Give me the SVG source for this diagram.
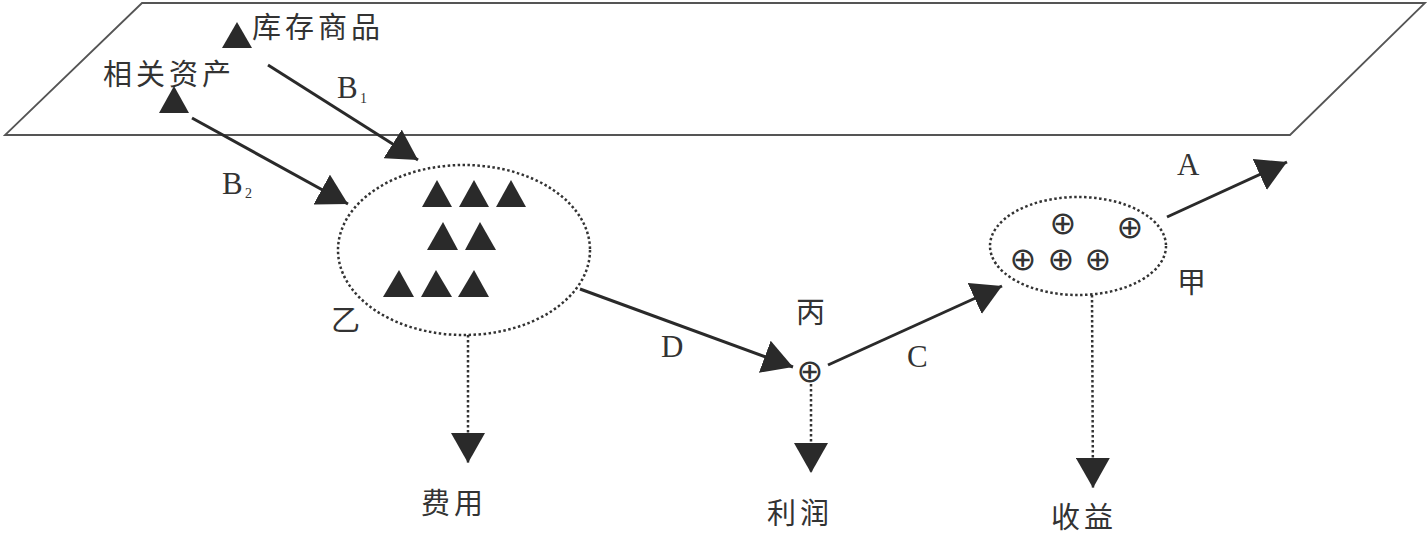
<svg xmlns="http://www.w3.org/2000/svg" width="1428" height="536" viewBox="0 0 1428 536">
<defs>
<style>
.cjk{font-family:"Noto Sans CJK SC","Noto Sans CJK JP",sans-serif;font-size:29px;fill:#333;letter-spacing:4px}
.lat{font-family:"Liberation Serif",serif;font-size:31px;fill:#333}
.sub{font-family:"Liberation Serif",serif;font-size:14px;fill:#333}
.op{font-family:"DejaVu Sans",sans-serif;font-size:32px;fill:#333;text-anchor:middle}
.tri{fill:#2a2a2a}
.solid{stroke:#2a2a2a;stroke-width:3;fill:none}
.dot{stroke:#333;stroke-width:2.5;fill:none;stroke-dasharray:2.5 2.5}
</style>
<marker id="ah" viewBox="0 0 30 34" refX="30" refY="17" markerWidth="30" markerHeight="34" markerUnits="userSpaceOnUse" orient="auto">
<path d="M0,0 L30,17 L0,34 Z" fill="#2a2a2a"/>
</marker>
</defs>
<rect width="1428" height="536" fill="#fff"/>
<g id="plane">
<polygon points="142,3 1425,3 1290,135 5,135" fill="none" stroke="#555" stroke-width="1.8"/>
</g>
<g id="node-kucun">
<polygon class="tri" points="222,48 237,22 252,48"/>
<text class="cjk" x="252" y="38">库存商品</text>
</g>
<g id="node-xiangguan">
<text class="cjk" x="103" y="85">相关资产</text>
<polygon class="tri" points="159,113 174,86 189,113"/>
</g>
<g id="node-yi">
<ellipse class="dot" cx="464" cy="250" rx="126" ry="85"/>
<polygon class="tri" points="422,207 437,180 452,207"/>
<polygon class="tri" points="459,207 474,180 489,207"/>
<polygon class="tri" points="496,207 511,180 526,207"/>
<polygon class="tri" points="427,250 443,222 458,250"/>
<polygon class="tri" points="465,250 480,222 496,250"/>
<polygon class="tri" points="383,297 399,270 414,297"/>
<polygon class="tri" points="421,297 436,270 452,297"/>
<polygon class="tri" points="458,297 474,270 489,297"/>
<text class="cjk" x="331" y="331">乙</text>
</g>
<g id="node-bing">
<text class="op" x="810" y="382">⊕</text>
<text class="cjk" x="796" y="323">丙</text>
</g>
<g id="node-jia">
<ellipse class="dot" cx="1078" cy="246" rx="88" ry="49"/>
<text class="op" x="1063" y="234">⊕</text>
<text class="op" x="1130" y="238">⊕</text>
<text class="op" x="1023" y="270">⊕</text>
<text class="op" x="1061" y="270">⊕</text>
<text class="op" x="1098" y="270">⊕</text>
<text class="cjk" x="1177" y="293">甲</text>
</g>
<g id="node-feiyong"><text class="cjk" x="421" y="514">费用</text></g>
<g id="node-lirun"><text class="cjk" x="767" y="524">利润</text></g>
<g id="node-shouyi"><text class="cjk" x="1051" y="528">收益</text></g>
<g id="connectors">
<line class="solid" x1="268" y1="65" x2="418" y2="160" marker-end="url(#ah)"/>
<line class="solid" x1="192" y1="118" x2="348" y2="204" marker-end="url(#ah)"/>
<line class="solid" x1="580" y1="289" x2="793" y2="367" marker-end="url(#ah)"/>
<line class="solid" x1="828" y1="365" x2="1002" y2="286" marker-end="url(#ah)"/>
<line class="solid" x1="1167" y1="217" x2="1287" y2="162" marker-end="url(#ah)"/>
<line class="dot" x1="468" y1="335" x2="468" y2="463" marker-end="url(#ah)"/>
<line class="dot" x1="811" y1="384" x2="811" y2="473" marker-end="url(#ah)"/>
<line class="dot" x1="1092" y1="295" x2="1093" y2="488" marker-end="url(#ah)"/>
<text class="lat" x="337" y="98">B</text><text class="sub" x="360" y="103">1</text>
<text class="lat" x="222" y="194">B</text><text class="sub" x="245" y="198">2</text>
<text class="lat" x="661" y="357">D</text>
<text class="lat" x="907" y="367">C</text>
<text class="lat" x="1177" y="175">A</text>
</g>
</svg>
